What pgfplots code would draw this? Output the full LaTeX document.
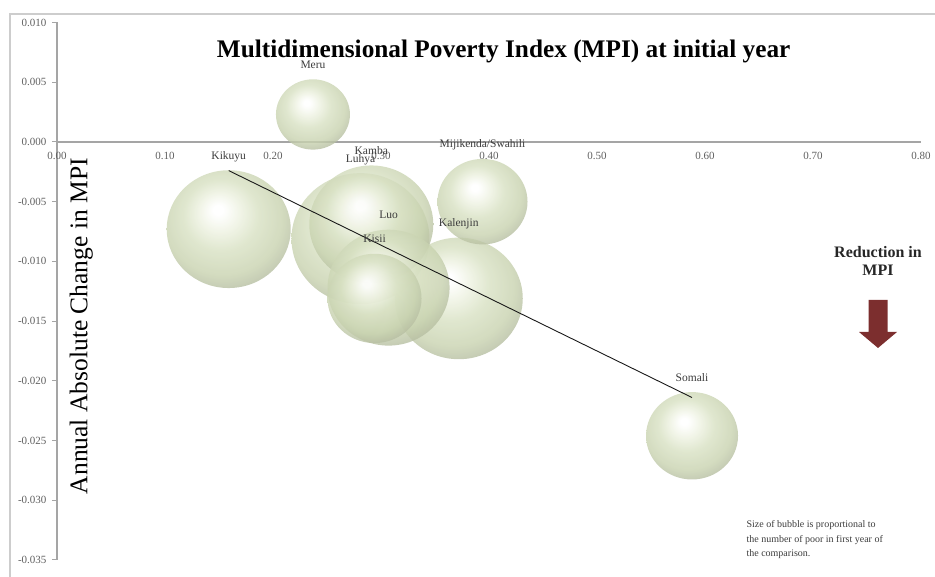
\documentclass[border=0pt]{standalone}
\usepackage{pgfplots}
\pgfplotsset{compat=1.18}
\usepackage{pgfplotstable}
\usepackage{fontspec}
\setmainfont{Liberation Serif}

\definecolor{axisgray}{RGB}{165,165,165}
\definecolor{framegray}{RGB}{205,205,205}
\definecolor{ticktext}{RGB}{95,95,95}
\definecolor{labeltext}{RGB}{60,60,60}
\definecolor{arrowred}{RGB}{124,46,46}
\definecolor{bubA}{RGB}{238,242,226}
\definecolor{bubB}{RGB}{216,225,195}
\definecolor{bubC}{RGB}{200,210,175}
\definecolor{bubD}{RGB}{178,186,158}
\definecolor{bubE}{RGB}{152,158,134}

% sphere-like shading for the bubbles, highlight up and to the left
\pgfdeclareradialshading{bubble}{\pgfpoint{-4.5bp}{8.5bp}}{%
  color(0bp)=(white); color(2bp)=(white); color(8bp)=(bubA);
  color(15bp)=(bubB); color(24bp)=(bubC); color(30bp)=(bubD);
  color(35bp)=(bubE); color(50bp)=(bubE)}

\pgfdeclareplotmark{bubble}{%
  \pgfsetfillopacity{0.8}%
  \pgfpathellipse{\pgfpointorigin}{\pgfqpoint{\pgfplotmarksize}{0pt}}%
    {\pgfqpoint{0pt}{0.95\pgfplotmarksize}}%
  \pgfshadepath{bubble}{0}%
  \pgfusepath{discard}}

% group, MPI at initial year, annual absolute change, bubble radius (pt)
\pgfplotstableread{
name x y r
Luhya 0.281 -0.0081 69
Kalenjin 0.372 -0.0131 64
Kamba 0.291 -0.0069 62
Luo 0.307 -0.0122 61
Kikuyu 0.159 -0.0073 62
Kisii 0.294 -0.0131 47
Somali 0.588 -0.0246 46
Mijikenda/Swahili 0.394 -0.0050 45
Meru 0.237 0.0023 37
}\bubbles

\pgfplotsset{
  mpiframe/.style={
    at={(57pt,17pt)}, anchor=south west,
    scale only axis, width=864pt, height=537.5pt,
    xmin=0, xmax=0.8, ymin=-0.035, ymax=0.010,
    clip=false,
  },
}

\begin{document}
\begin{tikzpicture}
\path[use as bounding box] (0,0) rectangle (935pt,577pt);
\draw[framegray, line width=1.6pt] (10pt,-5pt) -- (10pt,563pt) -- (940pt,563pt);

% axes and bubbles
\begin{axis}[
  mpiframe,
  axis x line=middle, axis y line=left,
  every inner x axis line/.append style={-},
  every outer x axis line/.append style={-},
  every inner y axis line/.append style={-},
  every outer y axis line/.append style={-},
  axis line style={draw=axisgray, line width=1.3pt},
  hide obscured x ticks=false, hide obscured y ticks=false,
  xtick={0,0.1,0.2,0.3,0.4,0.5,0.6,0.7,0.8},
  xticklabels={0.00,0.10,0.20,0.30,0.40,0.50,0.60,0.70,0.80},
  ytick={-0.035,-0.030,-0.025,-0.020,-0.015,-0.010,-0.005,0,0.005,0.010},
  yticklabels={-0.035,-0.030,-0.025,-0.020,-0.015,-0.010,-0.005,0.000,0.005,0.010},
  scaled ticks=false,
  tick align=outside, major tick length=5pt,
  xtick style={draw=none},
  ytick style={draw=axisgray, line width=1pt},
  ticklabel style={font=\fontsize{11}{13}\selectfont, text=ticktext},
  xticklabel style={anchor=north, yshift=-2pt},
  yticklabel style={anchor=east, xshift=-2pt},
]
% bubbles, largest first
\addplot[scatter, only marks, mark=bubble,
  point meta=\thisrow{r},
  visualization depends on={\thisrow{r} \as \rad},
  scatter/@pre marker code/.append style={/tikz/mark size=\rad},
] table[x=x, y=y] {\bubbles};

\node[rotate=90, font=\fontsize{25.5}{30}\selectfont, text=black]
  at (rel axis cs:0.028,0.435) {Annual Absolute Change in MPI};
\node[font=\bfseries\fontsize{25.3}{29}\selectfont, text=black]
  at (rel axis cs:0.517,0.946) {Multidimensional Poverty Index (MPI) at initial year};
\end{axis}

% trend line and group names, drawn over the bubbles
\begin{axis}[mpiframe, hide axis]
\addplot[black!90, line width=0.9pt]
  coordinates {(0.159,-0.0024) (0.588,-0.0214)};
\addplot[draw=none, mark=none,
  point meta=explicit symbolic,
  visualization depends on={\thisrow{r} \as \rad},
  nodes near coords,
  nodes near coords align={center},
  every node near coord/.append style={anchor=base, yshift={0.95*\rad+11},
    font=\fontsize{11.5}{13}\selectfont, text=labeltext, inner sep=0pt},
] table[x=x, y=y, meta=name] {\bubbles};
\end{axis}

\node[font=\bfseries\fontsize{16}{18}\selectfont, align=center, text=black!85]
  at (878pt,316pt) {Reduction in\\MPI};
\fill[arrowred] (868.5pt,277pt) -- (887.5pt,277pt) -- (887.5pt,245pt) -- (897pt,245pt)
  -- (878pt,229pt) -- (859pt,245pt) -- (868.5pt,245pt) -- cycle;
\node[anchor=north west, align=left, font=\fontsize{10}{14.5}\selectfont, text=labeltext]
  at (743pt,60pt) {Size of bubble is proportional to\\the number of poor in first year of\\the comparison.};
\end{tikzpicture}
\end{document}
